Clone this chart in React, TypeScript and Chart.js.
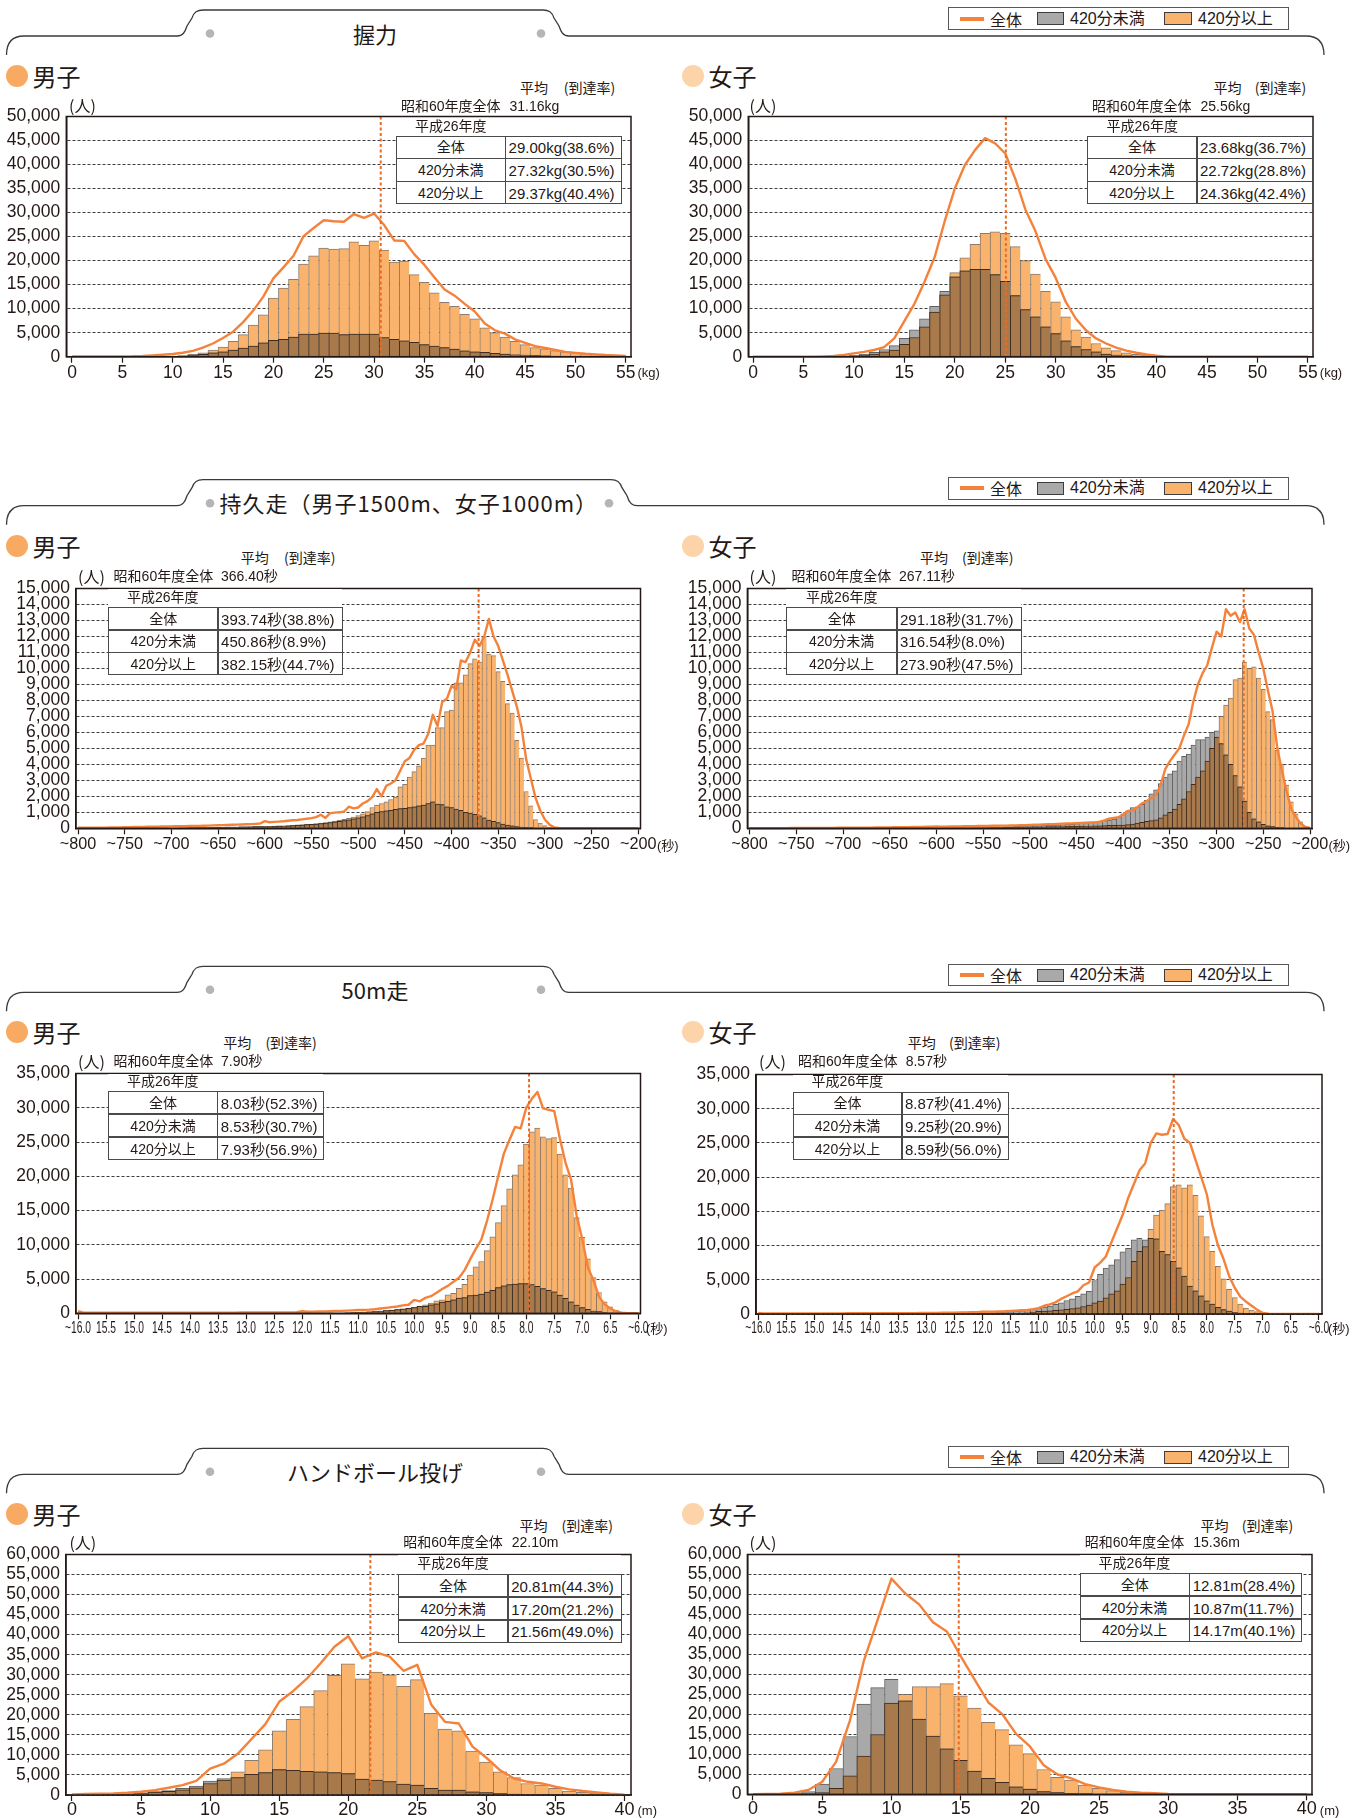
import React, { useEffect, useRef } from 'react';
import { Chart, registerables } from 'chart.js';
Chart.register(...registerables);

// ---------- colours / fonts ----------
const TEXT = '#231815';
const JP = '"Noto Sans CJK JP", "Liberation Sans", sans-serif';
const NUM = '"Liberation Sans", "Noto Sans CJK JP", sans-serif';
const ORANGE = '#f9b36c';
const GRAY = '#a9a9a9';
const BROWN = '#a8794b';
const LINE = '#f5823a';
const MEAN = '#ec6a22';
const FRAME = '#231815';

function makeBins(start: number, step: number, count: number) {
  const out: number[] = [];
  for (let i = 0; i < count; i++) out.push(Math.round((start + step * i) * 100) / 100);
  return out;
}

// ---------- categories ----------
const gripBins = makeBins(0, 1, 56);
const enduranceBins = makeBins(800, -5, 121);
const sprintBins = makeBins(16, -0.1, 101);
const handballBins = makeBins(0, 1, 41);

// ---------- tick labels ----------
const gripTicks = [0, 5, 10, 15, 20, 25, 30, 35, 40, 45, 50, 55];
const gripTickLabels = ['0', '5', '10', '15', '20', '25', '30', '35', '40', '45', '50', '55'];
const enduranceTicks = [800, 750, 700, 650, 600, 550, 500, 450, 400, 350, 300, 250, 200];
const enduranceTickLabels = ['~800', '~750', '~700', '~650', '~600', '~550', '~500', '~450', '~400', '~350', '~300', '~250', '~200'];
const sprintTicks = [16, 15.5, 15, 14.5, 14, 13.5, 13, 12.5, 12, 11.5, 11, 10.5, 10, 9.5, 9, 8.5, 8, 7.5, 7, 6.5, 6];
const sprintTickLabels = ['~16.0', '15.5', '15.0', '14.5', '14.0', '13.5', '13.0', '12.5', '12.0', '11.5', '11.0', '10.5', '10.0', '9.5', '9.0', '8.5', '8.0', '7.5', '7.0', '6.5', '~6.0'];
const handballTicks = [0, 5, 10, 15, 20, 25, 30, 35, 40];
const handballTickLabels = ['0', '5', '10', '15', '20', '25', '30', '35', '40'];

// ---------- series: grip (kg, 0..55) ----------
const gripMaleAbove = [0,0,0,0,0,0,0,20, 40,60,100,250,480,800,1400,2000, 3200,4600,6600,8700,12200,14300,16100,19300, 21000,22600,22400,22500,23900,23200,24100,22200, 19700,19900,17100,15500,13300,11300,10500,8800, 7900,6000,5000,4100,3200,2500,1900,1650, 1250,1000,800,600,450,350,200,100];
const gripMaleBelow = [0,0,0,0,0,0,0,15, 30,50,80,150,280,480,830,1000, 1400,1800,2200,2900,3400,3600,4100,4700, 4700,4900,4900,4600,4700,4700,4700,4000, 3600,3300,3000,2500,2200,1900,1600,1200, 1000,900,700,550,400,350,280,200, 140,100,80,60,40,30,20,10];
const gripMaleS60 = [60,60,60,60,60,60,80,150, 280,400,550,830,1200,1900,2750,3900, 5200,7200,9600,12500,16300,18600,21000,25100, 26800,28400,28200,28100,29700,28900,29800,27400, 24200,24100,21300,19100,16500,14000,12700,11000, 9400,6900,5500,4800,3600,2900,2200,1800, 1400,1000,800,600,480,340,280,140];
const gripFemaleAbove = [0,0,0,0,0,0,0,0, 0,30,150,280,550,1000,1400,2550, 4000,6200,9300,12900,17500,20600,23400,25700, 26000,25700,22900,20000,17200,13600,11400,8300, 5600,4100,2750,1850,1250,800,480,280, 100,30,0,0,0,0,0,0, 0,0,0,0,0,0,0,0];
const gripFemaleBelow = [0,0,0,0,0,0,0,0, 30,100,280,550,900,1500,2300,3800, 5600,7900,10500,13600,16600,17900,18200,18200, 17100,15700,12700,9800,8300,6200,4800,3300, 2100,1500,1000,550,350,200,130,70, 30,10,0,0,0,0,0,0, 0,0,0,0,0,0,0,0];
const gripFemaleS60 = [0,0,0,0,0,0,0,50, 140,350,690,1000,1400,2000,3800,7400, 11000,15600,20700,28200,35000,39900,43000,45500, 44400,42300,37000,30600,26100,20300,16400,11400, 7900,5500,3800,2750,1900,1250,830,480, 200,0,0,0,0,0,0,0, 0,0,0,0,0,0,0,0];

// ---------- series: endurance run (s, 800 -> 200 step 5) ----------
const enduranceMaleAbove = [
  10,8,8,8,10,10,10,12,12,12, 14,14,15,16,18,18,20,22,24,26, 28,30,32,35,38,40,44,48,52,56, 60,65,70,75,80,85,90,100,105,110,
  120,130,140,150,160,175,190,210,230,250, 270,300,330,360,400,450,500,560,620,700,
  800,900,1050,1300,1450,1550,1650,1800,1950,2600, 2750,3200,3550,3900,4400,5200,5200,6300,6300,7300,
  7400,9100,9100,9600,10300,10600,10400,12000,10900,10800, 9800,9200,7800,7200,5500,4400,2300,1400,550,320,
  170,60,20,0,0,0,0,0,0,0, 0,0,0,0,0,0,0,0,0,0, 0];
const enduranceMaleBelow = [
  10,8,8,8,10,10,10,12,12,12, 14,14,15,16,18,18,20,22,24,26, 28,30,32,35,38,40,44,48,52,56, 60,65,70,75,80,85,90,95,100,105,
  110,115,125,135,145,160,175,190,205,225, 245,270,300,320,360,400,440,480,530,590,
  650,720,800,900,1000,1050,1100,1130,1180,1230, 1250,1300,1350,1400,1450,1550,1650,1520,1480,1350,
  1300,1200,1130,1000,950,880,780,650,520,430, 350,270,200,150,110,80,60,40,25,15,
  10,5,0,0,0,0,0,0,0,0, 0,0,0,0,0,0,0,0,0,0, 0];
const enduranceMaleS60 = [
  30,30,35,35,40,40,45,50,55,60, 70,75,80,85,90,95,100,100,110,110, 120,125,130,135,140,145,150,160,170,180, 190,200,210,220,230,240,250,260,280,300,
  450,380,400,420,440,470,500,520,560,600, 640,700,850,650,950,980,1000,1050,1350,1250,
  1300,1550,1700,1950,2450,2000,2650,2800,3000,3600, 4200,4400,4900,5200,5300,5900,7100,6400,7900,8100,
  8900,8700,10500,10400,11000,11800,11400,12000,13100,12000, 11400,10500,9600,8600,7600,6300,4300,3100,1900,1100,
  550,220,60,20,0,0,0,0,0,0, 0,0,0,0,0,0,0,0,0,0, 0];
const enduranceFemaleAbove = [
  5,5,5,5,5,5,5,5,5,5, 5,5,5,5,5,6,6,6,6,6, 7,7,7,8,8,8,9,9,10,10, 10,11,11,12,12,13,13,14,15,15,
  16,17,18,19,20,22,24,26,28,30, 33,36,40,45,50,55,60,65,70,75,
  80,85,90,95,100,105,110,115,120,125, 130,135,140,145,150,160,170,180,190,195,
  200,230,270,320,380,430,480,530,650,850, 1000,1200,1500,1850,2300,2750,3200,3600,4200,5000,
  5700,7000,7700,8150,9300,9400,10400,10000,10100,9400, 8700,7300,6800,4900,4000,2700,1650,900,400,140, 20];
const enduranceFemaleBelow = [
  5,5,5,5,5,5,5,5,5,5, 6,6,6,6,6,7,7,7,7,8, 8,8,9,9,10,10,11,11,12,13, 14,15,16,17,18,19,20,22,24,26,
  28,30,33,36,40,44,48,52,56,60, 65,70,75,80,90,100,110,120,130,140,
  150,160,170,180,190,200,215,230,250,270, 290,310,330,360,400,440,480,520,580,680,
  900,1100,1300,1350,1500,1750,2150,2400,2800,3200, 3400,3600,4200,4500,4650,5200,5550,5550,5700,6000,
  6100,5300,4600,4000,3300,2600,1700,1000,600,400, 250,150,100,60,40,25,15,8,5,2, 0];
const enduranceFemaleS60 = [
  10,10,10,10,12,12,12,14,14,15, 16,17,18,20,20,22,24,26,28,30, 32,34,36,38,40,42,45,48,50,55, 60,62,65,70,75,80,85,90,95,100,
  110,105,105,110,115,120,125,130,135,140, 145,150,155,160,165,170,175,180,190,200,
  210,220,230,240,250,260,275,290,300,310, 320,330,345,360,370,420,500,600,650,700,
  850,1080,1120,1300,1550,1700,1900,2050,2700,3700, 4200,4600,5000,5800,6500,7900,9000,9700,10200,11300,
  12300,12000,13700,13300,13500,12900,13700,12500,12100,11000, 10000,8600,7300,5000,3600,2300,1200,700,300,80, 20];

// ---------- series: 50m run (s, 16.0 -> 6.0 step 0.1) ----------
const sprintMaleAbove = [
  60,
  5,5,5,5,5,5,5,5,5,5, 6,6,6,6,7,7,7,8,8,8, 9,9,10,10,11,12,13,14,15,16, 18,20,22,24,26,28,30,33,36,
  45,
  40,44,48,54,60,70,80,100,120,150, 180,220,270,320,400,480,560,650,750,870,
  1060,1250,1490,1830,1970,2690,2930,3650,4230,5580, 6780,7560,9150,11170,13240,15740,18150,20220,21660,24700,
  26480,27050,25750,25500,25650,23250,20220,18290,13960,11070, 7940,5200,3030,1690,960,480,140,30,0,0];
const sprintMaleBelow = [
  60,
  5,5,5,5,5,5,5,5,5,5, 6,6,6,6,7,7,7,8,8,8, 9,9,10,10,11,12,13,14,15,16, 18,20,22,24,26,28,30,33,36,
  45,
  40,44,48,52,58,64,70,85,105,140, 175,210,260,320,380,450,530,620,720,850,
  1000,1010,1250,1400,1640,1730,1970,2210,2310,2600, 2650,2800,3100,3370,3750,4000,4190,4250,4330,4330,
  4200,3950,3610,3370,3130,2650,2170,1690,1200,820, 580,340,240,150,80,40,15,5,0,0];
const sprintMaleS60 = [
  300,
  80,80,80,80,80,80,80,80,80,80, 85,85,85,85,85,90,90,90,90,90, 95,95,95,95,100,100,100,100,110,110, 110,120,120,120,130,130,140,140,150,
  300,
  220,240,260,280,300,330,360,390,430,480, 500,530,600,700,800,900,1000,1150,1250,1950,
  1750,2250,2500,3000,3550,4000,4600,5200,6300,7900, 9400,10800,13500,16600,20000,23300,25300,27200,27000,30000,
  31300,32300,29900,29700,29500,25500,22000,19500,14200,10800, 6700,4800,2400,1300,700,300,100,30,0,0];
const sprintFemaleAbove = [
  30,
  3,3,3,3,3,3,3,3,3,3, 4,4,4,4,4,5,5,5,5,5, 6,6,7,7,8,8,9,9,10,11, 12,13,14,15,16,17,18,20,22,
  40,
  40,50,60,75,90,110,140,180,250,380, 430,480,530,600,670,780,910,1100,1300,1640,
  1900,2360,2930,3400,4380,5340,7700,9150,9870,12370, 14440,15160,16130,18630,18870,18440,18870,17330,14350,11310,
  9150,6980,5150,3610,2410,1440,870,580,340,140, 40,10,0,0,0,0,0,0,0,0];
const sprintFemaleBelow = [
  30,
  3,3,3,3,3,3,3,3,3,3, 4,4,4,4,5,5,5,6,6,6, 7,8,9,10,11,12,14,16,18,20, 25,30,40,50,60,70,85,100,120,
  150,
  180,220,260,300,350,420,500,580,670,820, 1010,1150,1400,1640,1970,2210,2600,2930,3320,4900,
  5800,6700,7200,7950,9100,9600,10830,11070,10830,11070, 11000,9150,8700,7700,6740,5540,4090,3370,2650,1930,
  1440,960,630,430,240,140,80,40,20,10, 5,0,0,0,0,0,0,0,0,0];
const sprintFemaleS60 = [
  150,
  90,90,90,90,90,90,90,90,90,90, 95,95,95,95,95,100,100,100,100,100, 105,105,110,110,115,120,125,130,140,150, 160,170,180,190,200,220,240,260,280,
  340,
  320,340,370,400,450,500,550,600,700,850, 1200,1400,1700,2200,2600,3000,3300,4200,4600,6800,
  7500,8400,10500,12500,14500,17000,19000,21000,22000,25000, 26400,26200,26300,28500,27600,25600,25000,22500,20000,17500,
  13000,10000,8000,5500,3800,2500,1800,1200,600,150, 30,0,0,0,0,0,0,0,0,0];

// ---------- series: handball throw (m, 0..40) ----------
const handballMaleAbove = [20,50,80,120,200,450,700,900,1300,1800, 2880,3700,5750,8630,11260,16030,18900,22030,26050,29830, 32710,29010,30660,30000,27120,28770,20380,16440,16030,10930, 8220,5750,4360,2880,2470,1640,990,660,410,160, 80];
const handballMaleBelow = [30,80,150,250,350,550,850,1100,1650,2200, 3450,4110,4360,5180,5590,6330,6160,5920,5750,5590, 5340,3950,3700,3370,2710,2470,1640,1230,1230,820, 580,410,250,160,120,80,50,30,20,10, 5];
const handballMaleS60 = [160,250,330,410,575,820,1230,1810,2470,3530, 6580,7810,10270,13970,17670,23260,25890,29010,32880,36990, 39620,34110,35590,34520,30990,32470,22600,18250,17840,12080, 9290,6160,4110,3290,2880,2050,1400,990,660,330, 80];
const handballFemaleAbove = [0,0,20,50,150,410,1490,4630,9590,14960, 22810,25040,26940,26940,27690,24630,21570,18020,16200,12400, 10170,6200,4220,3550,2310,1490,910,500,250,80, 30,0,0,0,0,0,0,0,0,0, 0];
const handballFemaleBelow = [0,0,50,250,660,2560,6450,14460,22560,26690, 28760,23390,18840,14540,11400,8510,5790,3970,2980,1900, 1320,660,410,250,150,80,40,20,10,5, 0,0,0,0,0,0,0,0,0,0, 0];
const handballFemaleS60 = [0,80,160,410,1070,3140,8100,18430,33300,43640, 53970,50250,47520,43060,40740,34550,28760,22980,20080,15120, 11980,7270,4960,3970,2560,1740,1070,660,410,250, 80,0,0,0,0,0,0,0,0,0, 0];

// position of the S60 average marker on each axis (bin scale)
const s60MarkGripMale = 30.66;
const s60MarkGripFemale = 25.06;
const s60MarkEnduranceMale = 371;
const s60MarkEnduranceFemale = 271;
const s60MarkSprintMale = 7.95;
const s60MarkSprintFemale = 8.59;
const s60MarkHandballMale = 21.6;
const s60MarkHandballFemale = 14.86;

// ---------- table texts ----------
const statRowLabels = ['全体', '420分未満', '420分以上'];
const gripMaleStats = ['29.00kg(38.6%)', '27.32kg(30.5%)', '29.37kg(40.4%)'];
const gripFemaleStats = ['23.68kg(36.7%)', '22.72kg(28.8%)', '24.36kg(42.4%)'];
const enduranceMaleStats = ['393.74秒(38.8%)', '450.86秒(8.9%)', '382.15秒(44.7%)'];
const enduranceFemaleStats = ['291.18秒(31.7%)', '316.54秒(8.0%)', '273.90秒(47.5%)'];
const sprintMaleStats = ['8.03秒(52.3%)', '8.53秒(30.7%)', '7.93秒(56.9%)'];
const sprintFemaleStats = ['8.87秒(41.4%)', '9.25秒(20.9%)', '8.59秒(56.0%)'];
const handballMaleStats = ['20.81m(44.3%)', '17.20m(21.2%)', '21.56m(49.0%)'];
const handballFemaleStats = ['12.81m(28.4%)', '10.87m(11.7%)', '14.17m(40.1%)'];
const s60Averages = ['31.16kg', '25.56kg', '366.40秒', '267.11秒', '7.90秒', '8.57秒', '22.10m', '15.36m'];

// ---------- layout ----------
type Panel = any;

const panels: Panel[] = [
  { x0: 0, plot: [66.3, 114.3, 631, 356.7], xMin: -0.566, xMax: 55.516, reverse: false, yMax: 50000, yStep: 5000,
    bins: gripBins, above: gripMaleAbove, below: gripMaleBelow, s60: gripMaleS60, mean: s60MarkGripMale,
    ticks: gripTicks, tickLabels: gripTickLabels, tickFont: 17.5, tickScaleX: 1, tickDy: 16,
    gender: '男子', heikin: [520, 563.8, 86.5], hito: [69, 104.5], showa: [401, 509.5, 106], showaVal: s60Averages[0],
    heisei: [415, 126], table: [396, 622, 136, 204, 505.6], stats: gripMaleStats, unit: [637.5, 371.5, '(kg)'], B: 36 },
  { x0: 678, plot: [748.3, 114.3, 1313, 356.7], xMin: -0.466, xMax: 55.5, reverse: false, yMax: 50000, yStep: 5000,
    bins: gripBins, above: gripFemaleAbove, below: gripFemaleBelow, s60: gripFemaleS60, mean: s60MarkGripFemale,
    ticks: gripTicks, tickLabels: gripTickLabels, tickFont: 17.5, tickScaleX: 1, tickDy: 16,
    gender: '女子', heikin: [1213.5, 1254.7, 86.5], hito: [749.6, 104.5], showa: [1092, 1200.5, 106], showaVal: s60Averages[1],
    heisei: [1106.4, 126], table: [1087, 1313, 136, 204, 1197], stats: gripFemaleStats, unit: [1319.8, 371.5, '(kg)'], B: 36 },
  { x0: 0, plot: [75.9, 586, 640.5, 828.3], xMin: 197.64, xMax: 802.25, reverse: true, yMax: 15000, yStep: 1000,
    bins: enduranceBins, above: enduranceMaleAbove, below: enduranceMaleBelow, s60: enduranceMaleS60, mean: s60MarkEnduranceMale,
    ticks: enduranceTicks, tickLabels: enduranceTickLabels, tickFont: 16.2, tickScaleX: 1, tickDy: 16.7,
    gender: '男子', heikin: [240.7, 284, 557], hito: [78, 576], showa: [113.6, 221, 576], showaVal: s60Averages[2],
    heisei: [127, 596.7], table: [108.4, 342.6, 607.3, 675.3, 218.1], stats: enduranceMaleStats, unit: [657, 845, '(秒)'], B: 505.7 },
  { x0: 678, plot: [747.4, 586, 1312, 828.3], xMin: 197.86, xMax: 802.36, reverse: true, yMax: 15000, yStep: 1000,
    bins: enduranceBins, above: enduranceFemaleAbove, below: enduranceFemaleBelow, s60: enduranceFemaleS60, mean: s60MarkEnduranceFemale,
    ticks: enduranceTicks, tickLabels: enduranceTickLabels, tickFont: 16.2, tickScaleX: 1, tickDy: 16.7,
    gender: '女子', heikin: [920, 962, 557], hito: [749.6, 576], showa: [791.6, 899, 576], showaVal: s60Averages[3],
    heisei: [806, 596.7], table: [786.4, 1021.9, 607.3, 675.3, 897], stats: enduranceFemaleStats, unit: [1328.5, 845, '(秒)'], B: 505.7 },
  { x0: 0, plot: [75.9, 1071, 640.5, 1313.3], xMin: 5.961, xMax: 16.0375, reverse: true, yMax: 35000, yStep: 5000,
    bins: sprintBins, above: sprintMaleAbove, below: sprintMaleBelow, s60: sprintMaleS60, mean: s60MarkSprintMale,
    ticks: sprintTicks, tickLabels: sprintTickLabels, tickFont: 16, tickScaleX: 0.64, tickDy: 15,
    gender: '男子', heikin: [223.3, 265.4, 1042.3], hito: [78, 1061], showa: [113.6, 221, 1061], showaVal: s60Averages[4],
    heisei: [127, 1081], table: [108.4, 324, 1091, 1160.3, 217.7], stats: sprintMaleStats, unit: [646, 1328, '(秒)'], B: 992.3 },
  { x0: 678, plot: [756.1, 1071.7, 1322, 1314], xMin: 5.946, xMax: 16.037, reverse: true, yMax: 35000, yStep: 5000,
    bins: sprintBins, above: sprintFemaleAbove, below: sprintFemaleBelow, s60: sprintFemaleS60, mean: s60MarkSprintFemale,
    ticks: sprintTicks, tickLabels: sprintTickLabels, tickFont: 16, tickScaleX: 0.64, tickDy: 15,
    gender: '女子', heikin: [907.8, 949, 1042.3], hito: [759, 1061], showa: [798, 905.7, 1061], showaVal: s60Averages[5],
    heisei: [811.6, 1081], table: [793, 1009, 1091.7, 1160, 902], stats: sprintFemaleStats, unit: [1328, 1328, '(秒)'], B: 992.3 },
  { x0: 0, plot: [65.9, 1551.7, 631, 1795], xMin: -0.4416, xMax: 40.47, reverse: false, yMax: 60000, yStep: 5000,
    bins: handballBins, above: handballMaleAbove, below: handballMaleBelow, s60: handballMaleS60, mean: s60MarkHandballMale,
    ticks: handballTicks, tickLabels: handballTickLabels, tickFont: 18, tickScaleX: 1, tickDy: 15,
    gender: '男子', heikin: [519.5, 561.6, 1525], hito: [69.4, 1541.5], showa: [403.3, 511.7, 1542], showaVal: s60Averages[6],
    heisei: [417.2, 1563.3], table: [398, 622.3, 1574.3, 1642.7, 508.2], stats: handballMaleStats, unit: [637.5, 1810, '(m)'], B: 1474.3 },
  { x0: 678, plot: [747.4, 1552.3, 1312, 1794.3], xMin: -0.404, xMax: 40.376, reverse: false, yMax: 60000, yStep: 5000,
    bins: handballBins, above: handballFemaleAbove, below: handballFemaleBelow, s60: handballFemaleS60, mean: s60MarkHandballFemale,
    ticks: handballTicks, tickLabels: handballTickLabels, tickFont: 18, tickScaleX: 1, tickDy: 15,
    gender: '女子', heikin: [1200.5, 1241.7, 1525], hito: [749.6, 1541.5], showa: [1084.8, 1193.2, 1542], showaVal: s60Averages[7],
    heisei: [1098.6, 1563.3], table: [1079.6, 1302.5, 1573.3, 1641.7, 1189.7], stats: handballFemaleStats, unit: [1319.8, 1810, '(m)'], B: 1474.3 },
];

const sections = [
  { B: 36, title: '握力', titleX: 375, tabR: 570, dots: [210, 541], spacing: 0 },
  { B: 505.7, title: '持久走（男子1500m、女子1000m）', titleX: 408.8, tabR: 638, dots: [210, 609], spacing: 1 },
  { B: 992.3, title: '50m走', titleX: 375, tabR: 570, dots: [210, 541], spacing: 0 },
  { B: 1474.3, title: 'ハンドボール投げ', titleX: 375, tabR: 570, dots: [210, 541], spacing: 0 },
];

// ---------- small components ----------
function Txt({ x, y, size, family = JP, center = false, children, style = {} }: any) {
  return (
    <div style={{ position: 'absolute', left: x, top: y, transform: center ? 'translate(-50%,-50%)' : 'translateY(-50%)',
      fontSize: size, lineHeight: 1, fontFamily: family, color: TEXT, whiteSpace: 'nowrap', ...style }}>{children}</div>
  );
}

function HistCanvas({ p }: { p: Panel }) {
  const ref = useRef<HTMLCanvasElement>(null);
  const [l, t, r, b] = p.plot;
  const cTop = Math.round(t) - 14;
  const cW = 679;
  const cH = Math.ceil(b - cTop) + 40;
  useEffect(() => {
    const pts = (arr: number[]) => arr.map((y, i) => ({ x: p.bins[i], y }));
    const overlap = p.above.map((v: number, i: number) => Math.min(v, p.below[i]));
    const decor = {
      id: 'histDecor',
      afterDatasetsDraw(chart: any) {
        const { ctx, chartArea: ca, scales } = chart;
        const mx = scales.x.getPixelForValue(p.mean);
        ctx.save();
        ctx.strokeStyle = MEAN; ctx.lineWidth = 2; ctx.setLineDash([3, 2.5]);
        ctx.beginPath(); ctx.moveTo(mx, ca.top); ctx.lineTo(mx, ca.bottom); ctx.stroke();
        ctx.setLineDash([]); ctx.strokeStyle = FRAME; ctx.lineWidth = 1.5;
        ctx.strokeRect(ca.left, ca.top, ca.right - ca.left, ca.bottom - ca.top);
        ctx.restore();
      },
      afterDraw(chart: any) {
        const { ctx, chartArea: ca, scales } = chart;
        ctx.save();
        ctx.fillStyle = TEXT; ctx.font = `${p.tickFont}px ${NUM}`;
        ctx.textAlign = 'center'; ctx.textBaseline = 'middle';
        p.ticks.forEach((v: number, i: number) => {
          const x = scales.x.getPixelForValue(v);
          ctx.save(); ctx.translate(x, ca.bottom + p.tickDy); ctx.scale(p.tickScaleX, 1);
          ctx.fillText(p.tickLabels[i], 0, 0); ctx.restore();
        });
        ctx.restore();
      },
    };
    const barBase = { type: 'bar', grouped: false, barPercentage: 1, categoryPercentage: 1,
      borderWidth: { top: 1, left: 1, right: 0, bottom: 0 }, borderSkipped: 'start' };
    const chart = new Chart(ref.current as HTMLCanvasElement, {
      type: 'bar',
      data: {
        datasets: [
          { type: 'line', label: '全体', data: pts(p.s60), borderColor: LINE, borderWidth: 2.4, pointRadius: 0, tension: 0, order: 0, borderJoinStyle: 'round' },
          { ...barBase, label: '重なり', data: pts(overlap), backgroundColor: BROWN, borderColor: '#3d2b1f', order: 1 },
          { ...barBase, label: '420分未満', data: pts(p.below), backgroundColor: GRAY, borderColor: '#5f5f5f', order: 2 },
          { ...barBase, label: '420分以上', data: pts(p.above), backgroundColor: ORANGE, borderColor: 'rgba(120,100,85,0.85)', order: 3 },
        ] as any,
      },
      options: {
        responsive: false,
        animation: false,
        events: [],
        layout: { padding: { left: 0, top: t - cTop, right: cW - (r - p.x0), bottom: cH - 40 - (b - cTop) } },
        plugins: { legend: { display: false }, tooltip: { enabled: false } },
        scales: {
          x: {
            type: 'linear', min: p.xMin, max: p.xMax, reverse: p.reverse, offset: false,
            afterBuildTicks: (s: any) => { s.ticks = p.ticks.map((v: number) => ({ value: v })); },
            afterFit: (s: any) => { s.height = 40; },
            ticks: { display: false, autoSkip: false },
            grid: { offset: false, drawOnChartArea: false, drawTicks: true, tickLength: 6, tickColor: TEXT, tickWidth: 1.2 },
            border: { display: true, color: FRAME, width: 1.5 },
          },
          y: {
            min: 0, max: p.yMax,
            afterFit: (s: any) => { s.width = l - p.x0; },
            ticks: { stepSize: p.yStep, autoSkip: false, padding: 6, color: TEXT, font: { family: NUM, size: 17.5 },
              callback: (v: any) => Number(v).toLocaleString('en-US') },
            grid: { color: '#3d3d3d', lineWidth: 1, drawTicks: false },
            border: { display: true, color: FRAME, width: 1.5, dash: [3, 2] },
          },
        },
      } as any,
      plugins: [decor],
    });
    return () => chart.destroy();
  }, []);
  return <canvas ref={ref} width={cW} height={cH} style={{ position: 'absolute', left: p.x0, top: cTop, width: cW, height: cH }} />;
}

function PanelView({ p }: { p: Panel }) {
  const [tl, tr, tt, tb, tc] = p.table;
  const rh = (tb - tt) / 3;
  const isMale = p.gender === '男子';
  const cx = isMale ? 17.3 : 693;
  const tx = isMale ? 32.5 : 708.4;
  const borderC = '#4a4a4a';
  const maskTop = Math.max(p.heisei[1] - 8, p.plot[1] + 3);
  return (
    <>
      <HistCanvas p={p} />
      <div style={{ position: 'absolute', left: cx - 11, top: p.B + 40 - 11, width: 22, height: 22, borderRadius: '50%', background: isMale ? '#f9aa62' : '#fdd3aa' }} />
      <Txt x={tx} y={p.B + 40} size={24}>{p.gender}</Txt>
      <Txt x={p.heikin[0]} y={p.heikin[2]} size={14}>平均</Txt>
      <Txt x={p.heikin[1]} y={p.heikin[2]} size={14}>(到達率)</Txt>
      <Txt x={p.hito[0]} y={p.hito[1]} size={16}>(人)</Txt>
      <Txt x={p.showa[0]} y={p.showa[2]} size={14} family={NUM}>昭和60年度全体</Txt>
      <Txt x={p.showa[1]} y={p.showa[2]} size={14} family={NUM}>{p.showaVal}</Txt>
      <div style={{ position: 'absolute', left: tl, top: maskTop, width: tr - tl - 1, height: tt - maskTop, background: '#fff' }} />
      <Txt x={p.heisei[0]} y={p.heisei[1]} size={14} family={NUM}>平成26年度</Txt>
      <div style={{ position: 'absolute', left: tl, top: tt, width: tr - tl, height: tb - tt, border: `1.5px solid ${borderC}`, boxSizing: 'border-box', background: '#fff' }} />
      <div style={{ position: 'absolute', left: tl, top: tt + rh - 0.75, width: tr - tl, height: 1.5, background: borderC }} />
      <div style={{ position: 'absolute', left: tl, top: tt + 2 * rh - 0.75, width: tr - tl, height: 1.5, background: borderC }} />
      <div style={{ position: 'absolute', left: tc - 0.75, top: tt, width: 1.5, height: tb - tt, background: borderC }} />
      {statRowLabels.map((lab, i) => (
        <Txt key={'l' + i} x={(tl + tc) / 2} y={tt + rh * (i + 0.5)} size={14} family={NUM} center>{lab}</Txt>
      ))}
      {p.stats.map((s: string, i: number) => (
        <Txt key={'s' + i} x={tc + 3} y={tt + rh * (i + 0.5)} size={15} family={NUM}>{s}</Txt>
      ))}
      <Txt x={p.unit[0]} y={p.unit[1]} size={13} family={NUM}>{p.unit[2]}</Txt>
    </>
  );
}

function bracketPath(B: number, tabR: number) {
  const T = B - 26;
  return `M 6.5 ${B + 19} C 6.5 ${B + 7} 12 ${B} 24 ${B} L 177 ${B} C 183 ${B} 185 ${B - 4} 187 ${B - 10} L 192 ${T + 8} C 194 ${T + 2} 197 ${T} 203 ${T} L ${tabR - 27} ${T} C ${tabR - 21} ${T} ${tabR - 18} ${T + 2} ${tabR - 16} ${T + 8} L ${tabR - 11} ${B - 10} C ${tabR - 9} ${B - 4} ${tabR - 7} ${B} ${tabR - 1} ${B} L 1306 ${B} C 1318 ${B} 1324 ${B + 7} 1324 ${B + 19}`;
}

function Legend({ B }: { B: number }) {
  const top = B - 28.7;
  const mid = B - 17.3;
  return (
    <>
      <div style={{ position: 'absolute', left: 947.7, top, width: 341, height: 22.5, border: '1.6px solid #595757', boxSizing: 'border-box', background: '#fff' }} />
      <div style={{ position: 'absolute', left: 960, top: mid - 2, width: 24, height: 4, background: LINE }} />
      <Txt x={990} y={mid} size={16}>全体</Txt>
      <div style={{ position: 'absolute', left: 1037, top: mid - 6.5, width: 27, height: 13, background: GRAY, border: '1.3px solid #3d3d3d', boxSizing: 'border-box' }} />
      <Txt x={1070} y={mid} size={16} family={NUM}>420分未満</Txt>
      <div style={{ position: 'absolute', left: 1164, top: mid - 6.5, width: 28, height: 13, background: ORANGE, border: '1.3px solid #3d3d3d', boxSizing: 'border-box' }} />
      <Txt x={1198} y={mid} size={16} family={NUM}>420分以上</Txt>
    </>
  );
}

export default function App() {
  return (
    <div style={{ position: 'absolute', left: 0, top: 0, width: 1357, height: 1818, background: '#fff', overflow: 'hidden' }}>
      <svg width={1357} height={1818} style={{ position: 'absolute', left: 0, top: 0 }}>
        {sections.map((s, i) => (
          <g key={i}>
            <path d={bracketPath(s.B, s.tabR)} fill="none" stroke="#3a3a3a" strokeWidth={1.3} />
            <circle cx={s.dots[0]} cy={s.B - 2.5} r={4.3} fill="#b5b5b5" />
            <circle cx={s.dots[1]} cy={s.B - 2.5} r={4.3} fill="#b5b5b5" />
          </g>
        ))}
      </svg>
      {sections.map((s, i) => (
        <React.Fragment key={i}>
          <Txt x={s.titleX} y={s.B - 3.5} size={22} center style={{ letterSpacing: s.spacing }}>{s.title}</Txt>
          <Legend B={s.B} />
        </React.Fragment>
      ))}
      {panels.map((p, i) => <PanelView key={i} p={p} />)}
    </div>
  );
}
